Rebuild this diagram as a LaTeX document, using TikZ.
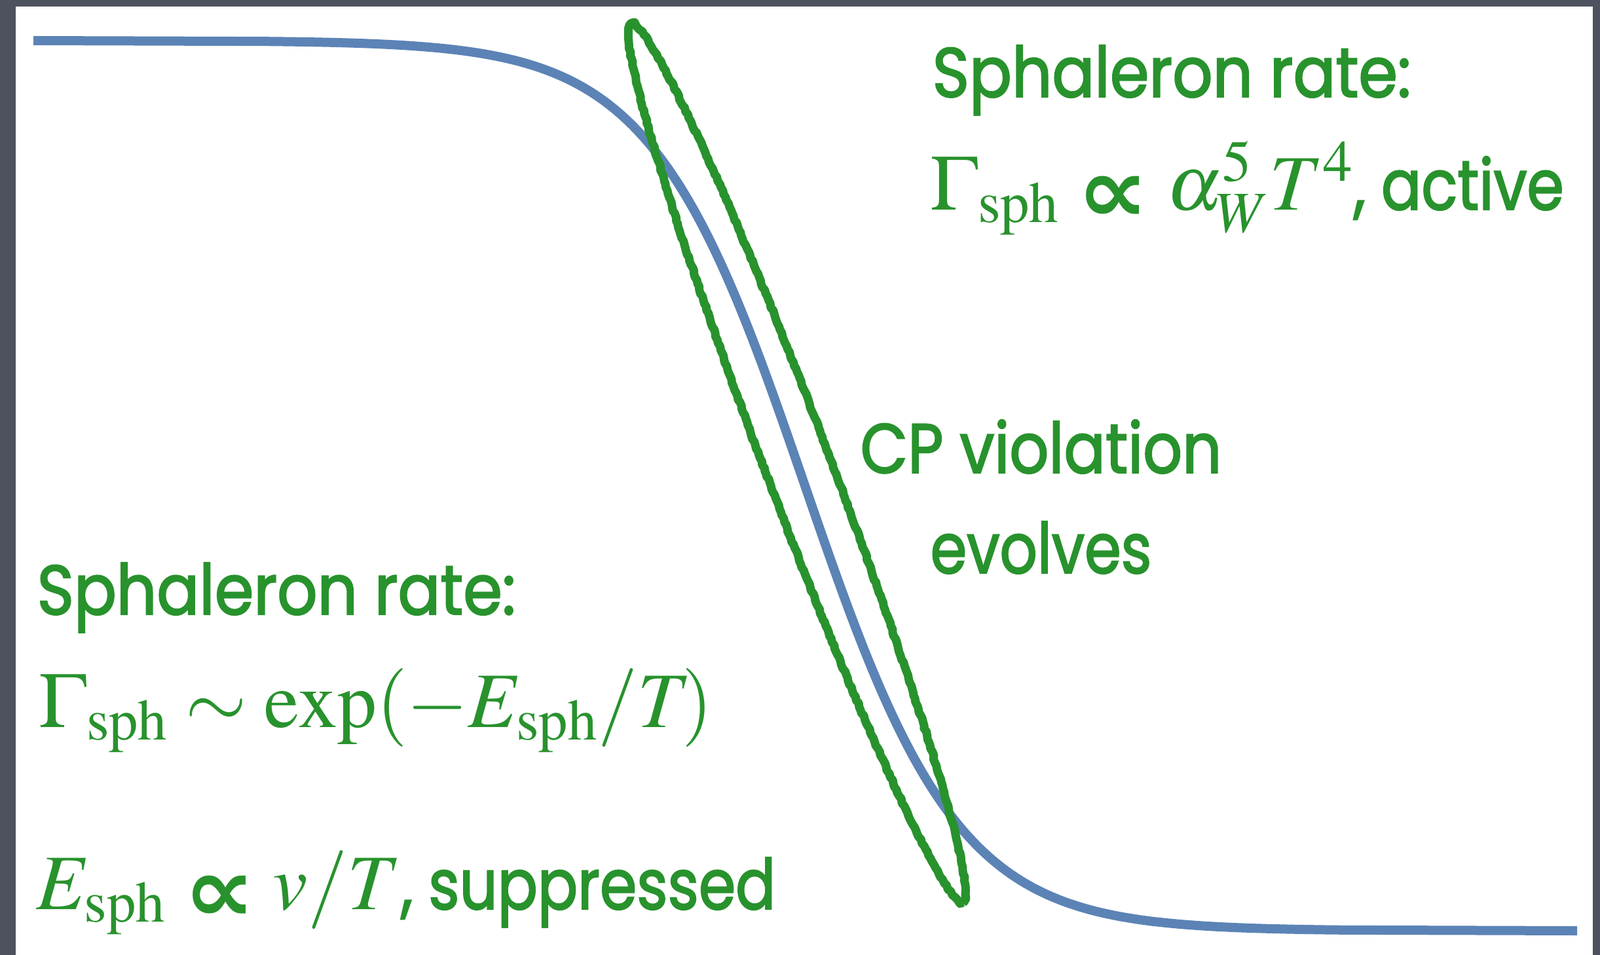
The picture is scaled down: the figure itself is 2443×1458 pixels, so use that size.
\documentclass[tikz,border=0pt]{standalone}
\usepackage{mathptmx}
\usepackage[no-math]{fontspec}
\usepackage{graphicx}
\newfontfamily\chalk[FakeBold=2.2]{Poppins}
\newfontfamily\dvsans{DejaVu Sans}
\usetikzlibrary{decorations.pathmorphing}
\definecolor{framegray}{RGB}{78,82,94}
\definecolor{chalkgreen}{RGB}{40,146,45}
\definecolor{curveblue}{RGB}{92,131,182}
\tikzset{
  chalktext/.style={anchor=base west, inner sep=0pt, text=chalkgreen},
  mathtext/.style={anchor=base west, inner sep=0pt, text=chalkgreen, font=\fontsize{36}{40}\selectfont},
  chalkline/.style={draw=chalkgreen, line width=3.9pt, line join=round,
    decorate, decoration={random steps, segment length=1.6pt, amplitude=0.35pt}},
}
\newcommand{\chk}[2]{\scalebox{#1}[1]{\chalk\fontsize{32}{36}\selectfont #2}}
\newcommand{\prop}{\mathrel{\raisebox{-5.8pt}{\scalebox{1.05}[0.95]{\dvsans\bfseries\fontsize{44}{46}\selectfont ∝}}}}
\begin{document}
\begin{tikzpicture}[x=0.3pt,y=-0.3pt]
\fill[framegray] (0,0) rectangle (2443,1458);
\fill[white] (24,10) rectangle (2432,1458);
\useasboundingbox (0,0) rectangle (2443,1458);
% blue curve (logistic step)
\draw[curveblue, line width=4.2pt, line cap=butt]
  (51,62) -- plot[domain=400:2050, samples=166, smooth] (\x, {62 + 1359/(1+exp(-(\x-1229)/117))}) -- (2408,1421);
% chalk ellipse
\coordinate (ec) at (1217,707);
\draw[chalkline, rotate around={-69.3:(ec)}] (ec) ellipse [x radius=717, y radius=50];
\draw[chalkline, line width=1.2pt, decoration={random steps, segment length=2.5pt, amplitude=1pt}, rotate around={-69.3:(ec)}] (ec) ellipse [x radius=717, y radius=50];
% texts
\node[chalktext] (h1) at (1423,148) {\chk{0.90}{Sphaleron rate:}};
\node[mathtext] (r1) at (1420,320) {$\Gamma_{\mathrm{sph}} \prop \alpha_W^5 T^4$\chk{0.85}{, active}};
\node[chalktext] (cp) at (1313,722) {\chk{0.88}{CP violation}};
\node[chalktext] (ev) at (1420,875) {\chk{0.84}{evolves}};
\node[chalktext] (h2) at (56,938) {\chk{0.90}{Sphaleron rate:}};
\node[mathtext] (r2) at (59,1110) {$\Gamma_{\mathrm{sph}} \sim \exp(-E_{\mathrm{sph}}/T\mkern-2mu)$};
\node[mathtext] (e2) at (55,1388) {$E_{\mathrm{sph}} \prop v/T$\chk{0.85}{, suppressed}};
\end{tikzpicture}
\end{document}
